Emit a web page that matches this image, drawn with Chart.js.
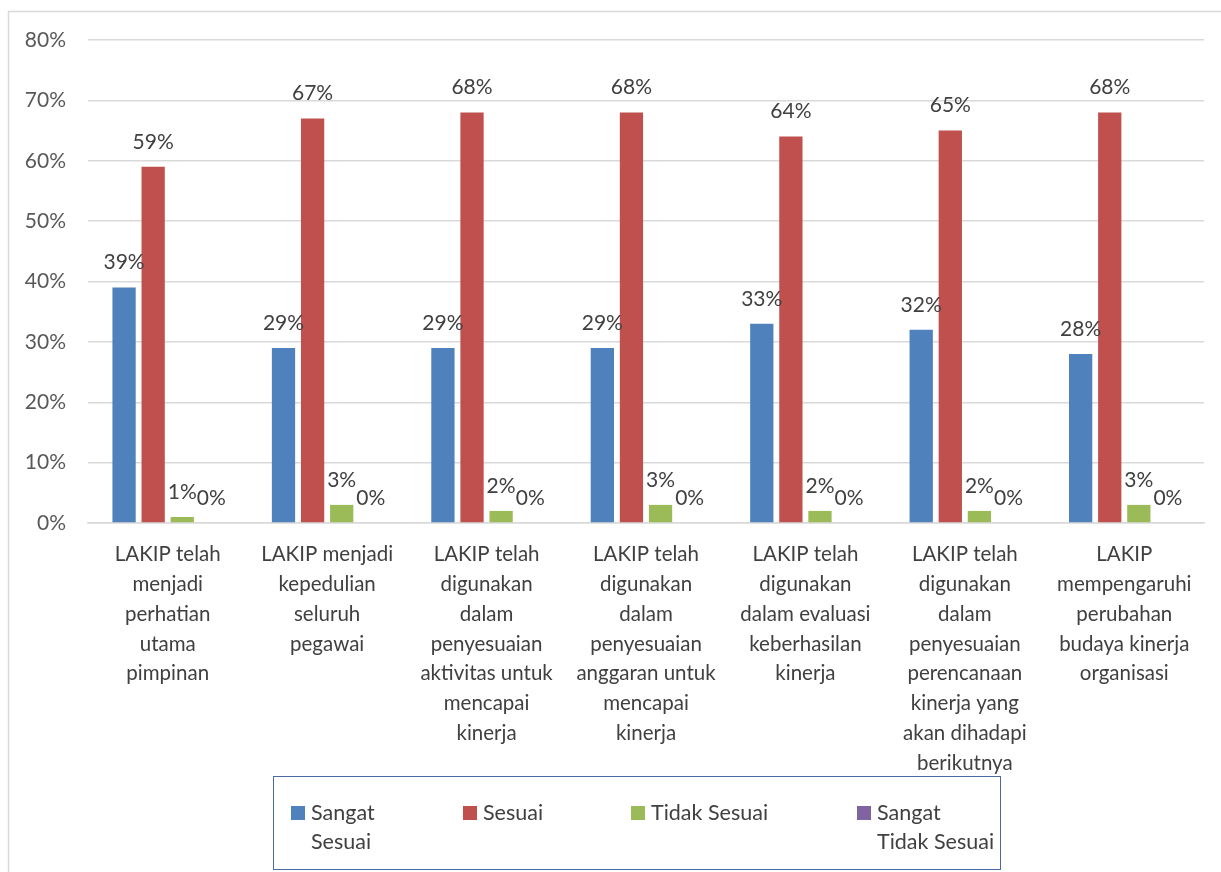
<!DOCTYPE html>
<html>
<head>
<meta charset="utf-8">
<script src="https://cdn.jsdelivr.net/npm/chart.js@4"></script>
<style>
  html, body { margin: 0; padding: 0; background: #fff; }
  canvas { display: block; }
</style>
</head>
<body>
<canvas id="chart" width="1221" height="872"></canvas>
<script>
const categories = [
    ['LAKIP telah', 'menjadi', 'perhatian', 'utama', 'pimpinan'],
    ['LAKIP menjadi', 'kepedulian', 'seluruh', 'pegawai'],
    ['LAKIP telah', 'digunakan', 'dalam', 'penyesuaian', 'aktivitas untuk', 'mencapai', 'kinerja'],
    ['LAKIP telah', 'digunakan', 'dalam', 'penyesuaian', 'anggaran untuk', 'mencapai', 'kinerja'],
    ['LAKIP telah', 'digunakan', 'dalam evaluasi', 'keberhasilan', 'kinerja'],
    ['LAKIP telah', 'digunakan', 'dalam', 'penyesuaian', 'perencanaan', 'kinerja yang', 'akan dihadapi', 'berikutnya'],
    ['LAKIP', 'mempengaruhi', 'perubahan', 'budaya kinerja', 'organisasi'],
];

const sangatSesuai = [39, 29, 29, 29, 33, 32, 28];
const sesuai = [59, 67, 68, 68, 64, 65, 68];
const tidakSesuai = [1, 3, 2, 3, 2, 2, 3];
const sangatTidakSesuai = [0, 0, 0, 0, 0, 0, 0];

const seriesNames = [['Sangat', 'Sesuai'], ['Sesuai'], ['Tidak Sesuai'], ['Sangat', 'Tidak Sesuai']];
const COLORS = ['#4F81BD', '#C0504D', '#9BBB59', '#8064A2'];

const FONT = 'Lato, "Open Sans", sans-serif';

// label persen di atas batang
const valueLabels = {
    id: 'valueLabels',
    afterDatasetsDraw(chart) {
        const ctx = chart.ctx;
        ctx.save();
        ctx.font = '21px ' + FONT;
        ctx.fillStyle = '#404040';
        ctx.textAlign = 'center';
        ctx.textBaseline = 'middle';
        chart.data.datasets.forEach((ds, i) => {
            const meta = chart.getDatasetMeta(i);
            meta.data.forEach((bar, j) => {
                ctx.fillText(ds.data[j] + '%', bar.x, bar.y - 25);
            });
        });
        ctx.restore();
    },
};

// bingkai luar + legenda dalam kotak
const frameAndLegend = {
    id: 'frameAndLegend',
    beforeDraw(chart) {
        const ctx = chart.ctx;
        ctx.save();
        ctx.strokeStyle = '#d9d9d9';
        ctx.lineWidth = 1.5;
        ctx.strokeRect(8.5, 11.5, 1230, 900);
        ctx.restore();
    },
    afterDraw(chart) {
        const ctx = chart.ctx;
        ctx.save();
        ctx.strokeStyle = '#4a6aa5';
        ctx.lineWidth = 1;
        ctx.strokeRect(273.5, 776.5, 727, 93);
        const xs = [291, 463, 631, 857];
        ctx.font = '21.5px ' + FONT;
        ctx.textBaseline = 'middle';
        ctx.textAlign = 'left';
        chart.data.datasets.forEach((ds, i) => {
            ctx.fillStyle = ds.backgroundColor;
            ctx.fillRect(xs[i], 806, 14, 14);
            ctx.fillStyle = '#404040';
            seriesNames[i].forEach((line, k) => {
                ctx.fillText(line, xs[i] + 20, 813 + k * 29);
            });
        });
        ctx.restore();
    },
};

new Chart(document.getElementById('chart'), {
    type: 'bar',
    data: {
        labels: categories,
        datasets: [
            { label: 'Sangat Sesuai', data: sangatSesuai, backgroundColor: COLORS[0] },
            { label: 'Sesuai', data: sesuai, backgroundColor: COLORS[1] },
            { label: 'Tidak Sesuai', data: tidakSesuai, backgroundColor: COLORS[2] },
            { label: 'Sangat Tidak Sesuai', data: sangatTidakSesuai, backgroundColor: COLORS[3] },
        ],
    },
    options: {
        responsive: false,
        animation: false,
        categoryPercentage: 0.73,
        barPercentage: 0.8,
        layout: { padding: { left: 20, right: 17, top: 40, bottom: 0 } },
        plugins: {
            legend: { display: false },
            tooltip: { enabled: false },
        },
        scales: {
            x: {
                grid: { display: false, drawTicks: false },
                border: { color: '#d9d9d9', width: 1.5 },
                ticks: {
                    color: '#404040',
                    font: { family: FONT, size: 20.5, lineHeight: 1.45 },
                    padding: 17,
                    maxRotation: 0,
                    autoSkip: false,
                },
                afterFit: (scale) => { scale.height = 349; },
            },
            y: {
                min: 0,
                max: 80,
                grid: { color: '#d9d9d9', lineWidth: 1.5, drawTicks: false },
                border: { display: false },
                ticks: {
                    stepSize: 10,
                    color: '#595959',
                    font: { family: FONT, size: 21 },
                    padding: 22,
                    callback: (v) => v + '%',
                },
                afterFit: (scale) => { scale.width = 68; },
            },
        },
    },
    plugins: [valueLabels, frameAndLegend],
});
</script>
</body>
</html>
